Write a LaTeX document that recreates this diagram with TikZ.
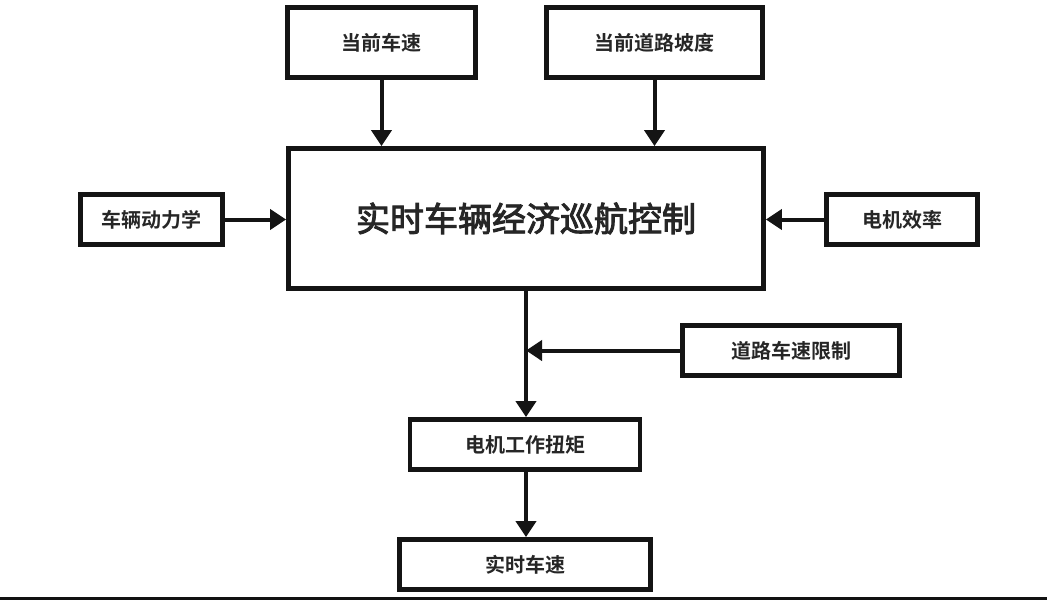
\documentclass[tikz,border=0pt]{standalone}
\usepackage{fontspec}
\setmainfont{Noto Sans CJK SC}
\newfontfamily\cjkb{Noto Sans CJK SC Bold}
\newfontfamily\cjkm{Noto Sans CJK SC}[FakeBold=2.8]
\usetikzlibrary{arrows.meta}
\tikzset{
  box/.style={draw=black!92, line width=4.8pt, fill=white, inner sep=0pt, text=black!85,
    font=\cjkb\fontsize{20}{24}\selectfont},
  mainbox/.style={box, font=\cjkm\fontsize{34}{38}\selectfont},
  arr/.style={draw=black!92, line width=4pt, -{Triangle[width=20pt,length=16pt]}},
}
\begin{document}
\begin{tikzpicture}[x=1pt,y=-1pt]
\useasboundingbox (0,0) rectangle (1047,600);
\fill[white] (0,0) rectangle (1047,600);
\node[box, minimum width=188pt, minimum height=70pt] (v1) at (381.5,42.5) {当前车速};
\node[box, minimum width=216pt, minimum height=70pt] (v2) at (654.5,42.5) {当前道路坡度};
\node[mainbox, minimum width=475pt, minimum height=140pt] (main) at (526,218.5) {\raisebox{-2pt}{实时车辆经济巡航控制}};
\node[box, minimum width=142pt, minimum height=50pt] (dyn) at (151.5,219.5) {车辆动力学};
\node[box, minimum width=151pt, minimum height=50pt] (eff) at (902,219.5) {电机效率};
\node[box, minimum width=217pt, minimum height=50pt] (lim) at (791,350.5) {道路车速限制};
\node[box, minimum width=230pt, minimum height=50pt] (tq) at (525,444.5) {电机工作扭矩};
\node[box, minimum width=251pt, minimum height=50pt] (spd) at (525,564.5) {实时车速};
\coordinate (j) at (lim.west -| main.south);
\draw[arr] (v1.south) -- (v1.south |- main.north);
\draw[arr] (v2.south) -- (v2.south |- main.north);
\draw[arr] (dyn.east) -- (dyn.east -| main.west);
\draw[arr] (eff.west) -- (eff.west -| main.east);
\draw[arr] (main.south) -- (main.south |- tq.north);
\draw[arr] (lim.west) -- (j);
\draw[arr] (main.south |- tq.south) -- (main.south |- spd.north);
\fill[black!93] (0,596.5) rectangle (1047,600);
\end{tikzpicture}
\end{document}
